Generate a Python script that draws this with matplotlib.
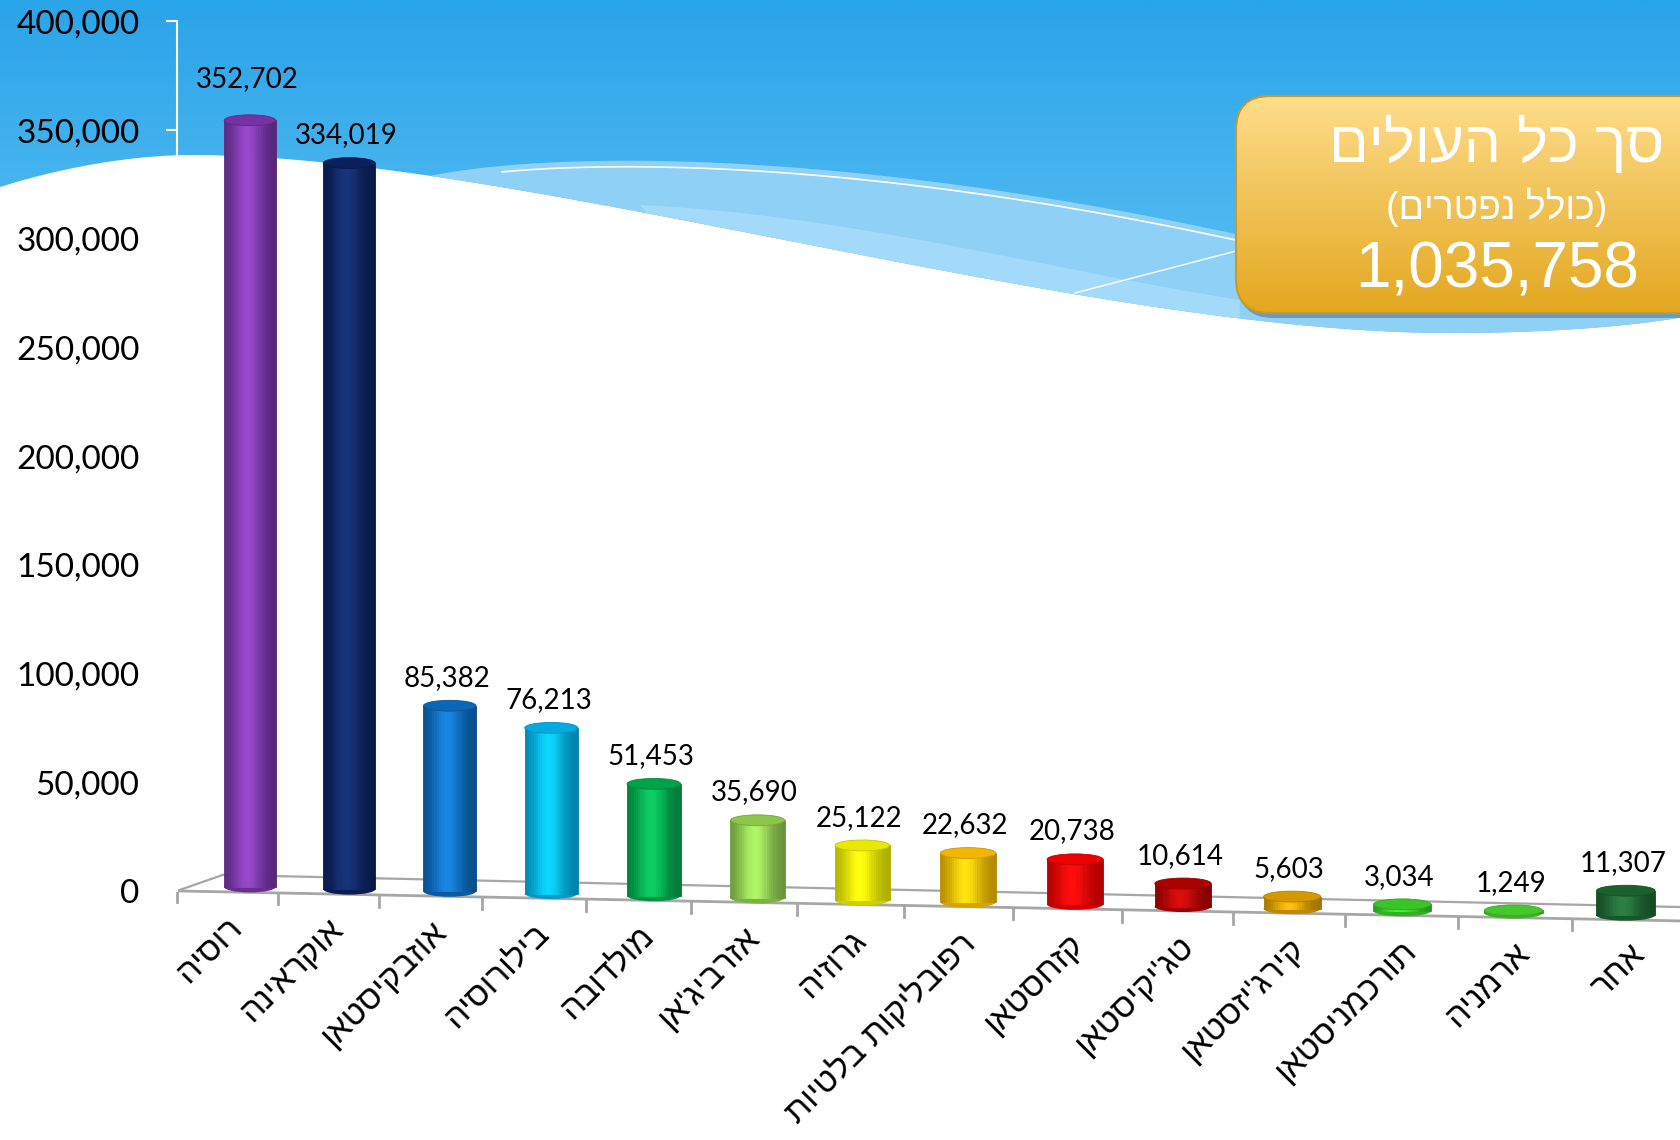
import numpy as np
import matplotlib
matplotlib.use("Agg")
import matplotlib.pyplot as plt
from matplotlib.patches import Ellipse, FancyBboxPatch, PathPatch, Polygon
from matplotlib.path import Path
from matplotlib.colors import to_rgb
from matplotlib.ticker import FuncFormatter

# ---- data ----
countries = ["רוסיה", "אוקראינה", "אוזבקיסטאן", "בילורוסיה", "מולדובה", "אזרביג'אן",
             "גרוזיה", "רפובליקות בלטיות", "קזחסטאן", "טג'יקיסטאן", "קירג'יזסטאן",
             "תורכמניסטאן", "ארמניה", "אחר"]
immigrants = [352702, 334019, 85382, 76213, 51453, 35690, 25122, 22632,
              20738, 10614, 5603, 3034, 1249, 11307]
bar_colors = ["#7a35aa", "#0a2262", "#0a6cc0", "#00b4f0", "#00ac4e", "#92d050",
              "#f5f500", "#ffc000", "#f80000", "#b80000", "#e0a000", "#3ccf2a",
              "#4ad12e", "#1c6630"]
y_ticks = [0, 50000, 100000, 150000, 200000, 250000, 300000, 350000, 400000]
box_title = "סך כל העולים"
box_sub = "(כולל נפטרים)"
total = sum(immigrants)

HEB = ["Liberation Sans", "DejaVu Sans"]
NUM = ["Lato", "DejaVu Sans"]


def rtl(s):
    flip = {"(": ")", ")": "("}
    return "".join(flip.get(c, c) for c in reversed(s))


def bezier(p0, p1, p2, p3, n=200):
    t = np.linspace(0, 1, n)[:, None]
    p0, p1, p2, p3 = map(np.array, (p0, p1, p2, p3))
    return (1 - t) ** 3 * p0 + 3 * (1 - t) ** 2 * t * p1 + 3 * (1 - t) * t ** 2 * p2 + t ** 3 * p3


fig = plt.figure(figsize=(16.8, 11.4), dpi=100)
fig.patch.set_facecolor("white")

# ---- background: blue sky with wave ----
bg = fig.add_axes([0, 0, 1, 1], zorder=0)
bg.set_xlim(0, 1680)
bg.set_ylim(1140, 0)
bg.axis("off")

wave = np.vstack([
    bezier((0, 187), (60, 168), (130, 155), (193, 155)),
    bezier((193, 155), (520, 155), (1080, 333), (1450, 333)),
    bezier((1450, 333), (1560, 333), (1640, 325), (1690, 316)),
])
sky = np.vstack([wave, [(1690, -5), (-5, -5), (-5, 187)]])
sky_patch = PathPatch(Path(sky), facecolor="none", edgecolor="none", transform=bg.transData)
bg.add_patch(sky_patch)
grad = np.linspace(0, 1, 256)[:, None, None]
c_top, c_bot = np.array(to_rgb("#2aa4e8")), np.array(to_rgb("#62c3f5"))
sky_img = c_top + (c_bot - c_top) * grad
im = bg.imshow(sky_img, extent=(0, 1690, 360, 0), aspect="auto", zorder=1)
im.set_clip_path(sky_patch)

w_at = np.interp(430, wave[:, 0], wave[:, 1])
band_top = np.vstack([
    bezier((430, w_at), (560, 150), (850, 150), (1240, 235)),
    bezier((1240, 235), (1400, 268), (1560, 292), (1690, 300)),
])
low = wave[wave[:, 0] >= 430][::-1]
bg.add_patch(Polygon(np.vstack([band_top, low]), closed=True, facecolor="#8fd0f6",
                     edgecolor="none", zorder=2))
inner = bezier((640, 205), (850, 215), (1050, 270), (1240, 300))
lower_band = np.vstack([inner, wave[(wave[:, 0] >= 640) & (wave[:, 0] <= 1240)][::-1]])
bg.add_patch(Polygon(lower_band, closed=True, facecolor="#a3daf9", edgecolor="none", zorder=2))
sel = band_top[(band_top[:, 0] > 500) & (band_top[:, 0] < 1240)]
bg.plot(sel[:, 0], sel[:, 1] + 6, color="white", lw=1.2, zorder=3)
bg.plot([1075, 1240], [293, 250], color="white", lw=1.0, zorder=3)

# ---- total box ----
bx, by, bw, bh = 1236, 96, 480, 217
shadow = FancyBboxPatch((bx + 3, by + 5), bw, bh, boxstyle="round,pad=0,rounding_size=34",
                        facecolor="black", edgecolor="none", alpha=0.25, zorder=4)
bg.add_patch(shadow)
box = FancyBboxPatch((bx, by), bw, bh, boxstyle="round,pad=0,rounding_size=34",
                     facecolor="none", edgecolor="#c9992c", lw=1.5, zorder=6)
bg.add_patch(box)
g_top, g_bot = np.array(to_rgb("#fedd8c")), np.array(to_rgb("#e3a71f"))
box_img = g_top + (g_bot - g_top) * grad
bim = bg.imshow(box_img, extent=(bx, bx + bw, by + bh, by), aspect="auto", zorder=5)
bim.set_clip_path(box)
bg.set_xlim(0, 1680)
bg.set_ylim(1140, 0)

cx = 1497
bg.text(cx, 145, rtl(box_title), color="white", fontsize=42, family=HEB,
        ha="center", va="center", zorder=7)
bg.text(cx, 207, rtl(box_sub), color="white", fontsize=27, family=HEB,
        ha="center", va="center", zorder=7)
bg.text(cx, 270, f"{total:,}", color="white", fontsize=46, family=HEB,
        ha="center", va="center", zorder=7)

# ---- main chart (3D-ish cylinders) ----
PA, PB = 98.8, 0.538


def fwd(x):
    x = np.asarray(x, dtype=float)
    return PA * x + PB * x * x


def inv(u):
    u = np.asarray(u, dtype=float)
    return (-PA + np.sqrt(np.maximum(PA * PA + 4 * PB * u, 0))) / (2 * PB)


ax = fig.add_axes([0.10536, 0.18035, 0.89464, 0.8009], zorder=1)
ax.patch.set_alpha(0)
ax.set_xscale("function", functions=(fwd, inv))
ax.set_xlim(-0.74, 13.48)
ax.set_ylim(-20000, 400000)

n_strip = 24
w = 0.52
cap_h = 5000
t = (np.arange(n_strip) + 0.5) / n_strip
light_v = np.exp(-((t - 0.45) / 0.3) ** 2)

for i, (val, col) in enumerate(zip(immigrants, bar_colors)):
    base = 1800 - 1000 * i
    rgb = np.array(to_rgb(col))
    dark = rgb * 0.7
    light = np.clip(rgb * 1.12 + 0.05, 0, 1)
    shades = dark + (light - dark) * light_v[:, None]
    ax.add_patch(Ellipse((i, base), w, cap_h, facecolor=rgb * 0.85, edgecolor="none", zorder=2))
    xs = i - w / 2 + (np.arange(n_strip) + 0.5) * w / n_strip
    ax.bar(xs, val, width=w / n_strip, bottom=base, color=shades, edgecolor=shades,
           lw=0.6, zorder=3)
    ax.add_patch(Ellipse((i, base + val), w, cap_h, facecolor=rgb * 0.95,
                         edgecolor=rgb * 0.8, lw=0.6, zorder=4))
    off = 30 if i == 0 else 20
    ax.annotate(f"{val:,}", (i, base + val), xytext=(-2, off), textcoords="offset points",
                ha="center", va="center", fontsize=20, family=NUM, color="black", zorder=5)

# floor
fc = "#a6a6a6"
ax.plot([-0.74, 13.48], [0, -13800], color=fc, lw=2, zorder=1, clip_on=False)
ax.plot([-0.275, 13.48], [7360, -7400], color=fc, lw=1.6, zorder=1, clip_on=False)
ax.plot([-0.74, -0.275], [0, 7360], color=fc, lw=1.6, zorder=1, clip_on=False)


def front(x):
    return -13800 * (x + 0.74) / 14.22


for k in range(14):
    tx = k * 1.02 - 0.74
    ax.plot([tx, tx], [front(tx), front(tx) - 5200], color=fc, lw=2, zorder=1, clip_on=False)

for k, name in enumerate(countries):
    mx = (k + 0.5) * 1.02 - 0.74
    ax.annotate(rtl(name), (mx, front(mx)), xytext=(0, -14), textcoords="offset points",
                ha="right", va="top", rotation=45, rotation_mode="anchor",
                fontsize=24, family=HEB, color="black")

# axes styling
for s in ["top", "right", "bottom"]:
    ax.spines[s].set_visible(False)
ax.spines["left"].set_color("white")
ax.spines["left"].set_linewidth(1.5)
ax.spines["left"].set_bounds(0, 400000)
ax.set_yticks(y_ticks)
ax.yaxis.set_major_formatter(FuncFormatter(lambda v, p: f"{int(v):,}"))
ax.tick_params(axis="y", direction="out", length=8, width=1.5, color="white",
               labelsize=24, pad=19)
for lab in ax.get_yticklabels():
    lab.set_family(NUM)
ax.set_xticks([])
ax.minorticks_off()

fig.savefig("out.png", dpi=100, facecolor="white")
